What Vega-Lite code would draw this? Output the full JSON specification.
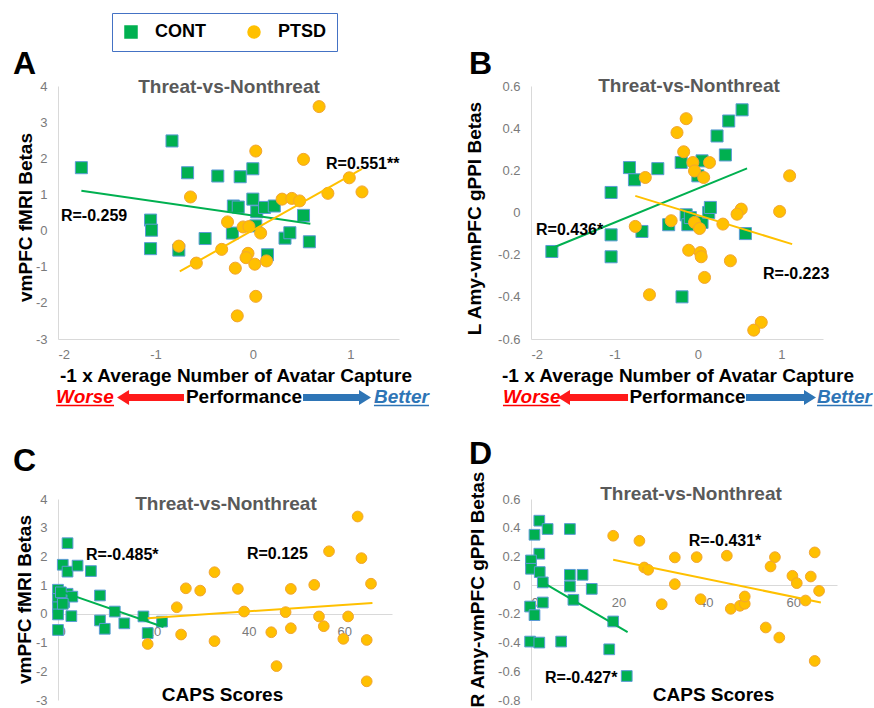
{
  "$schema": "https://vega.github.io/schema/vega-lite/v6.json",
  "background": "white",
  "autosize": {"type": "pad"},
  "padding": {"left": 12, "top": 12, "right": 0, "bottom": 0},
  "config": {
    "view": {"stroke": null},
    "font": "Liberation Sans",
    "axis": {"grid": false, "ticks": false, "labelOverlap": false, "tickCount": 20, "domainColor": "#d9d9d9", "labelColor": "#7a7a7a", "labelFontSize": 13, "labelFont": "Liberation Sans", "titleFont": "Liberation Sans", "titleColor": "#000000", "titleFontSize": 19, "titleFontWeight": "bold"},
    "legend": {"strokeColor": "#4472c4", "padding": 10, "symbolSize": 144, "symbolStrokeColor": "#4472c4", "symbolStrokeWidth": 1.5, "labelFontSize": 18, "labelFontWeight": "bold", "labelColor": "#000000", "labelFont": "Liberation Sans", "labelOffset": 15, "columnPadding": 39},
    "text": {"font": "Liberation Sans"}
  },
  "resolve": {"legend": {"color": "independent", "shape": "independent"}},
  "datasets": {
    "ptA": [
      {"g":"CONT","x":-1.76,"y":1.74},{"g":"CONT","x":-0.83,"y":2.48},{"g":"CONT","x":-0.67,"y":1.60},{"g":"CONT","x":-0.36,"y":1.51},{"g":"CONT","x":-0.13,"y":1.49},{"g":"CONT","x":0.0,"y":1.71},{"g":"CONT","x":-1.05,"y":0.29},{"g":"CONT","x":-1.04,"y":0.01},{"g":"CONT","x":-1.05,"y":-0.50},{"g":"CONT","x":-0.76,"y":-0.54},{"g":"CONT","x":-0.49,"y":-0.22},{"g":"CONT","x":-0.20,"y":0.68},{"g":"CONT","x":-0.15,"y":0.65},{"g":"CONT","x":0.0,"y":0.87},{"g":"CONT","x":0.04,"y":0.52},{"g":"CONT","x":0.12,"y":0.64},{"g":"CONT","x":0.22,"y":0.68},{"g":"CONT","x":-0.21,"y":-0.07},{"g":"CONT","x":0.03,"y":0.13},{"g":"CONT","x":0.33,"y":-0.21},{"g":"CONT","x":0.38,"y":-0.06},{"g":"CONT","x":0.52,"y":0.42},{"g":"CONT","x":0.58,"y":-0.31},{"g":"CONT","x":0.15,"y":-0.67},
      {"g":"PTSD","x":0.68,"y":3.43},{"g":"PTSD","x":0.03,"y":2.20},{"g":"PTSD","x":0.52,"y":1.97},{"g":"PTSD","x":0.99,"y":1.46},{"g":"PTSD","x":0.77,"y":1.03},{"g":"PTSD","x":1.12,"y":1.07},{"g":"PTSD","x":-0.64,"y":0.93},{"g":"PTSD","x":0.30,"y":0.87},{"g":"PTSD","x":0.40,"y":0.89},{"g":"PTSD","x":0.48,"y":0.82},{"g":"PTSD","x":-0.26,"y":0.24},{"g":"PTSD","x":-0.10,"y":0.10},{"g":"PTSD","x":-0.04,"y":0.11},{"g":"PTSD","x":0.08,"y":-0.07},{"g":"PTSD","x":-0.76,"y":-0.43},{"g":"PTSD","x":-0.32,"y":-0.52},{"g":"PTSD","x":-0.58,"y":-0.90},{"g":"PTSD","x":-0.05,"y":-0.63},{"g":"PTSD","x":-0.07,"y":-0.75},{"g":"PTSD","x":0.02,"y":-0.93},{"g":"PTSD","x":0.14,"y":-0.84},{"g":"PTSD","x":-0.18,"y":-1.04},{"g":"PTSD","x":0.03,"y":-1.82},{"g":"PTSD","x":-0.16,"y":-2.36}
    ],
    "lnA": [{"g":"CONT","x":-1.76,"y":1.10,"x2":0.59,"y2":0.19},{"g":"PTSD","x":-0.75,"y":-1.13,"x2":1.12,"y2":1.71}],
    "ptB": [
      {"g":"CONT","x":-1.75,"y":-0.185},{"g":"CONT","x":-1.04,"y":0.095},{"g":"CONT","x":-1.04,"y":-0.106},{"g":"CONT","x":-1.04,"y":-0.21},{"g":"CONT","x":-0.82,"y":0.213},{"g":"CONT","x":-0.76,"y":0.155},{"g":"CONT","x":-0.67,"y":-0.09},{"g":"CONT","x":-0.48,"y":0.208},{"g":"CONT","x":-0.35,"y":-0.058},{"g":"CONT","x":-0.2,"y":0.237},{"g":"CONT","x":-0.14,"y":-0.011},{"g":"CONT","x":-0.12,"y":-0.058},{"g":"CONT","x":0.05,"y":0.245},{"g":"CONT","x":0.0,"y":0.174},{"g":"CONT","x":0.05,"y":-0.047},{"g":"CONT","x":0.13,"y":0.0},{"g":"CONT","x":0.15,"y":0.024},{"g":"CONT","x":0.23,"y":0.363},{"g":"CONT","x":0.37,"y":0.434},{"g":"CONT","x":0.33,"y":0.273},{"g":"CONT","x":0.53,"y":0.487},{"g":"CONT","x":0.57,"y":-0.1},{"g":"CONT","x":-0.19,"y":-0.4},{"g":"CONT","x":-0.09,"y":-0.024},
      {"g":"PTSD","x":-0.14,"y":0.445},{"g":"PTSD","x":-0.25,"y":0.379},{"g":"PTSD","x":-0.17,"y":0.288},{"g":"PTSD","x":-0.06,"y":0.237},{"g":"PTSD","x":0.14,"y":0.237},{"g":"PTSD","x":-0.04,"y":0.197},{"g":"PTSD","x":0.07,"y":0.166},{"g":"PTSD","x":-0.63,"y":0.166},{"g":"PTSD","x":1.10,"y":0.174},{"g":"PTSD","x":0.98,"y":0.005},{"g":"PTSD","x":0.52,"y":0.016},{"g":"PTSD","x":0.47,"y":-0.008},{"g":"PTSD","x":-0.75,"y":-0.066},{"g":"PTSD","x":-0.32,"y":-0.039},{"g":"PTSD","x":-0.04,"y":-0.047},{"g":"PTSD","x":0.02,"y":-0.076},{"g":"PTSD","x":0.30,"y":-0.055},{"g":"PTSD","x":-0.11,"y":-0.179},{"g":"PTSD","x":0.03,"y":-0.19},{"g":"PTSD","x":0.04,"y":-0.21},{"g":"PTSD","x":0.39,"y":-0.229},{"g":"PTSD","x":0.08,"y":-0.308},{"g":"PTSD","x":-0.58,"y":-0.39},{"g":"PTSD","x":0.76,"y":-0.521},{"g":"PTSD","x":0.67,"y":-0.558}
    ],
    "lnB": [{"g":"CONT","x":-1.73,"y":-0.166,"x2":0.59,"y2":0.209},{"g":"PTSD","x":-0.75,"y":0.079,"x2":1.13,"y2":-0.150}],
    "ptC": [
      {"g":"CONT","x":2.0,"y":2.46},{"g":"CONT","x":1.0,"y":1.71},{"g":"CONT","x":2.0,"y":1.47},{"g":"CONT","x":4.1,"y":1.68},{"g":"CONT","x":6.9,"y":1.49},{"g":"CONT","x":0,"y":0.84},{"g":"CONT","x":0,"y":0.52},{"g":"CONT","x":0,"y":0.23},{"g":"CONT","x":0,"y":-0.02},{"g":"CONT","x":0,"y":-0.56},{"g":"CONT","x":1.3,"y":0.41},{"g":"CONT","x":2.0,"y":0.70},{"g":"CONT","x":3.0,"y":0.60},{"g":"CONT","x":2.8,"y":-0.08},{"g":"CONT","x":8.8,"y":0.64},{"g":"CONT","x":8.8,"y":-0.23},{"g":"CONT","x":9.8,"y":-0.52},{"g":"CONT","x":11.9,"y":0.08},{"g":"CONT","x":13.9,"y":-0.33},{"g":"CONT","x":17.9,"y":-0.09},{"g":"CONT","x":18.8,"y":-0.67},{"g":"CONT","x":21.8,"y":-0.27},{"g":"CONT","x":0.6,"y":0.75},{"g":"CONT","x":1.0,"y":0.35},
      {"g":"PTSD","x":62.8,"y":3.39},{"g":"PTSD","x":56.8,"y":2.18},{"g":"PTSD","x":63.6,"y":1.94},{"g":"PTSD","x":32.8,"y":1.45},{"g":"PTSD","x":26.8,"y":0.89},{"g":"PTSD","x":29.8,"y":0.81},{"g":"PTSD","x":37.7,"y":0.87},{"g":"PTSD","x":48.8,"y":0.87},{"g":"PTSD","x":53.7,"y":1.01},{"g":"PTSD","x":65.6,"y":1.05},{"g":"PTSD","x":24.9,"y":0.23},{"g":"PTSD","x":39.0,"y":0.08},{"g":"PTSD","x":47.7,"y":0.06},{"g":"PTSD","x":54.7,"y":-0.09},{"g":"PTSD","x":60.8,"y":-0.09},{"g":"PTSD","x":25.8,"y":-0.72},{"g":"PTSD","x":32.8,"y":-0.95},{"g":"PTSD","x":44.7,"y":-0.64},{"g":"PTSD","x":48.8,"y":-0.50},{"g":"PTSD","x":55.7,"y":-0.43},{"g":"PTSD","x":59.8,"y":-0.87},{"g":"PTSD","x":64.7,"y":-0.91},{"g":"PTSD","x":18.8,"y":-1.05},{"g":"PTSD","x":45.8,"y":-1.82},{"g":"PTSD","x":64.7,"y":-2.35}
    ],
    "lnC": [{"g":"CONT","x":0.4,"y":0.79,"x2":22.1,"y2":-0.46},{"g":"PTSD","x":18.8,"y":-0.15,"x2":65.9,"y2":0.38}],
    "ptD": [
      {"g":"CONT","x":1.9,"y":0.449},{"g":"CONT","x":0.8,"y":0.351},{"g":"CONT","x":3.8,"y":0.391},{"g":"CONT","x":8.9,"y":0.391},{"g":"CONT","x":1.9,"y":0.219},{"g":"CONT","x":0,"y":0.172},{"g":"CONT","x":0,"y":0.114},{"g":"CONT","x":2.0,"y":0.091},{"g":"CONT","x":2.7,"y":0.019},{"g":"CONT","x":8.9,"y":0.072},{"g":"CONT","x":8.9,"y":-0.009},{"g":"CONT","x":11.8,"y":0.072},{"g":"CONT","x":13.9,"y":-0.026},{"g":"CONT","x":9.7,"y":-0.102},{"g":"CONT","x":2.7,"y":-0.121},{"g":"CONT","x":-0.2,"y":-0.149},{"g":"CONT","x":0.8,"y":-0.209},{"g":"CONT","x":-0.2,"y":-0.393},{"g":"CONT","x":1.9,"y":-0.4},{"g":"CONT","x":6.9,"y":-0.393},{"g":"CONT","x":18.8,"y":-0.253},{"g":"CONT","x":17.9,"y":-0.447},{"g":"CONT","x":21.9,"y":-0.633},
      {"g":"PTSD","x":18.8,"y":0.344},{"g":"PTSD","x":24.8,"y":0.309},{"g":"PTSD","x":25.9,"y":0.123},{"g":"PTSD","x":26.8,"y":0.107},{"g":"PTSD","x":32.9,"y":0.193},{"g":"PTSD","x":37.9,"y":0.195},{"g":"PTSD","x":44.8,"y":0.205},{"g":"PTSD","x":55.8,"y":0.195},{"g":"PTSD","x":54.8,"y":0.130},{"g":"PTSD","x":64.9,"y":0.228},{"g":"PTSD","x":59.8,"y":0.065},{"g":"PTSD","x":60.8,"y":0.014},{"g":"PTSD","x":64.0,"y":0.060},{"g":"PTSD","x":65.9,"y":-0.040},{"g":"PTSD","x":32.9,"y":0.007},{"g":"PTSD","x":29.9,"y":-0.133},{"g":"PTSD","x":38.8,"y":-0.098},{"g":"PTSD","x":45.7,"y":-0.165},{"g":"PTSD","x":47.8,"y":-0.144},{"g":"PTSD","x":48.9,"y":-0.130},{"g":"PTSD","x":48.9,"y":-0.079},{"g":"PTSD","x":62.8,"y":-0.107},{"g":"PTSD","x":53.7,"y":-0.295},{"g":"PTSD","x":56.8,"y":-0.365},{"g":"PTSD","x":64.9,"y":-0.528}
    ],
    "lnD": [{"g":"CONT","x":2.3,"y":0.026,"x2":22.1,"y2":-0.328},{"g":"PTSD","x":18.8,"y":0.177,"x2":66.3,"y2":-0.121}]
  },
  "columns": 2,
  "bounds": "flush",
  "align": "all",
  "spacing": {"row": 160, "column": 132},
  "concat": [
    {
      "width": 341, "height": 253,
      "layer": [
        {"data": {"name": "ptA"}, "mark": {"type": "point", "filled": true, "opacity": 1, "size": 145, "strokeWidth": 1},
         "encoding": {
           "x": {"field": "x", "type": "quantitative", "scale": {"domain": [-2, 1.5], "nice": false, "zero": false}, "axis": {"values": [-2, -1, 0, 1], "tickCount": 20, "labelOverlap": false, "labelExpr": "'' + datum.value", "labelPadding": 9, "title": "-1 x Average Number of Avatar Capture", "titleX": 177.5, "titleY": 42, "titleBaseline": "alphabetic"}},
           "y": {"field": "y", "type": "quantitative", "scale": {"domain": [-3, 4], "nice": false, "zero": false}, "axis": {"values": [-3, -2, -1, 0, 1, 2, 3, 4], "tickCount": 20, "labelOverlap": false, "labelExpr": "'' + datum.value", "labelPadding": 11, "title": "vmPFC fMRI Betas", "titleX": -27, "titleY": 131, "titleBaseline": "alphabetic"}},
           "color": {"field": "g", "type": "nominal", "title": null, "scale": {"domain": ["CONT", "PTSD"], "range": ["#00b050", "#ffc000"]}, "legend": {"orient": "none", "legendX": 54, "legendY": -73, "direction": "horizontal", "title": null, "labelExpr": "datum.label == 'PTSD' ? 'PTSD\u00a0\u00a0\u00a0\u00a0\u00a0\u00a0' : datum.label"}},
           "shape": {"field": "g", "type": "nominal", "title": null, "scale": {"domain": ["CONT", "PTSD"], "range": ["square", "circle"]}, "legend": {"orient": "none", "legendX": 54, "legendY": -73, "direction": "horizontal", "title": null, "labelExpr": "datum.label == 'PTSD' ? 'PTSD\u00a0\u00a0\u00a0\u00a0\u00a0\u00a0' : datum.label"}},
           "stroke": {"field": "g", "type": "nominal", "legend": null, "scale": {"domain": ["CONT", "PTSD"], "range": ["#5b9bd5", "#f2a531"]}}
         }},
        {"data": {"name": "lnA"}, "mark": {"type": "rule", "strokeWidth": 2},
         "encoding": {"x": {"field": "x", "type": "quantitative"}, "y": {"field": "y", "type": "quantitative"}, "x2": {"field": "x2"}, "y2": {"field": "y2"}, "color": {"field": "g", "type": "nominal", "legend": null}}},
        {"data": {"values": [{}]}, "mark": {"type": "text", "text": "A", "fontSize": 32, "fontWeight": "bold", "align": "left", "baseline": "alphabetic", "color": "#000000"}, "encoding": {"x": {"datum": -2.462, "type": "quantitative"}, "y": {"datum": 4.33, "type": "quantitative"}}},
        {"data": {"values": [{}]}, "mark": {"type": "text", "text": "Threat-vs-Nonthreat", "fontSize": 19, "fontWeight": "bold", "align": "center", "baseline": "middle", "color": "#595959"}, "encoding": {"x": {"datum": -0.245, "type": "quantitative"}, "y": {"datum": 3.98, "type": "quantitative"}}},
        {"data": {"values": [{}]}, "mark": {"type": "text", "text": "R=-0.259", "fontSize": 16, "fontWeight": "bold", "align": "left", "baseline": "middle", "color": "#000000"}, "encoding": {"x": {"datum": -1.97, "type": "quantitative"}, "y": {"datum": 0.40, "type": "quantitative"}}},
        {"data": {"values": [{}]}, "mark": {"type": "text", "text": "R=0.551**", "fontSize": 16, "fontWeight": "bold", "align": "left", "baseline": "middle", "color": "#000000"}, "encoding": {"x": {"datum": 0.751, "type": "quantitative"}, "y": {"datum": 1.84, "type": "quantitative"}}},
        {"data": {"values": [{}]}, "mark": {"type": "text", "text": "Worse", "fontSize": 19, "fontWeight": "bold", "fontStyle": "italic", "align": "left", "baseline": "alphabetic", "color": "#ff0000"}, "encoding": {"x": {"datum": -2.02, "type": "quantitative"}, "y": {"datum": -4.77, "type": "quantitative"}}},
        {"data": {"values": [{}]}, "mark": {"type": "rule", "strokeWidth": 1.5, "color": "#ff0000"}, "encoding": {"x": {"datum": -2.02, "type": "quantitative"}, "x2": {"datum": -1.425}, "y": {"datum": -4.84, "type": "quantitative"}}},
        {"data": {"values": [{}]}, "mark": {"type": "rule", "strokeWidth": 7, "color": "#ff1a1a"}, "encoding": {"x": {"datum": -1.30, "type": "quantitative"}, "x2": {"datum": -0.707}, "y": {"datum": -4.619, "type": "quantitative"}}},
        {"data": {"values": [{}]}, "mark": {"type": "point", "shape": "M-1,0L0.6,-1L0.6,1Z", "filled": true, "opacity": 1, "size": 225, "color": "#ff1a1a"}, "encoding": {"x": {"datum": -1.317, "type": "quantitative"}, "y": {"datum": -4.619, "type": "quantitative"}}},
        {"data": {"values": [{}]}, "mark": {"type": "text", "text": "Performance", "fontSize": 19, "fontWeight": "bold", "align": "center", "baseline": "alphabetic", "color": "#000000"}, "encoding": {"x": {"datum": -0.091, "type": "quantitative"}, "y": {"datum": -4.77, "type": "quantitative"}}},
        {"data": {"values": [{}]}, "mark": {"type": "rule", "strokeWidth": 7, "color": "#2e75b6"}, "encoding": {"x": {"datum": 0.515, "type": "quantitative"}, "x2": {"datum": 1.11}, "y": {"datum": -4.619, "type": "quantitative"}}},
        {"data": {"values": [{}]}, "mark": {"type": "point", "shape": "M1,0L-0.6,-1L-0.6,1Z", "filled": true, "opacity": 1, "size": 225, "color": "#2e75b6"}, "encoding": {"x": {"datum": 1.1356, "type": "quantitative"}, "y": {"datum": -4.619, "type": "quantitative"}}},
        {"data": {"values": [{}]}, "mark": {"type": "text", "text": "Better", "fontSize": 19, "fontWeight": "bold", "fontStyle": "italic", "align": "left", "baseline": "alphabetic", "color": "#2e75b6"}, "encoding": {"x": {"datum": 1.243, "type": "quantitative"}, "y": {"datum": -4.77, "type": "quantitative"}}},
        {"data": {"values": [{}]}, "mark": {"type": "rule", "strokeWidth": 1.5, "color": "#2e75b6"}, "encoding": {"x": {"datum": 1.243, "type": "quantitative"}, "x2": {"datum": 1.808}, "y": {"datum": -4.84, "type": "quantitative"}}}
      ]
    },
    {
      "width": 292, "height": 253,
      "layer": [
        {"data": {"name": "ptB"}, "mark": {"type": "point", "filled": true, "opacity": 1, "size": 145, "strokeWidth": 1},
         "encoding": {
           "x": {"field": "x", "type": "quantitative", "scale": {"domain": [-2, 1.5], "nice": false, "zero": false}, "axis": {"values": [-2, -1, 0, 1], "tickCount": 20, "labelOverlap": false, "labelExpr": "'' + datum.value", "labelPadding": 9, "title": "-1 x Average Number of Avatar Capture", "titleX": 146.5, "titleY": 42, "titleBaseline": "alphabetic"}},
           "y": {"field": "y", "type": "quantitative", "scale": {"domain": [-0.6, 0.6], "nice": false, "zero": false}, "axis": {"values": [-0.6, -0.4, -0.2, 0, 0.2, 0.4, 0.6], "tickCount": 20, "labelOverlap": false, "labelExpr": "'' + datum.value", "labelPadding": 11, "title": "L Amy-vmPFC gPPI Betas", "titleX": -51, "titleY": 132, "titleBaseline": "alphabetic"}},
           "color": {"field": "g", "type": "nominal", "legend": null},
           "shape": {"field": "g", "type": "nominal", "legend": null},
           "stroke": {"field": "g", "type": "nominal", "legend": null}
         }},
        {"data": {"name": "lnB"}, "mark": {"type": "rule", "strokeWidth": 2},
         "encoding": {"x": {"field": "x", "type": "quantitative"}, "y": {"field": "y", "type": "quantitative"}, "x2": {"field": "x2"}, "y2": {"field": "y2"}, "color": {"field": "g", "type": "nominal", "legend": null}}},
        {"data": {"values": [{}]}, "mark": {"type": "text", "text": "B", "fontSize": 32, "fontWeight": "bold", "align": "left", "baseline": "alphabetic", "color": "#000000"}, "encoding": {"x": {"datum": -2.743, "type": "quantitative"}, "y": {"datum": 0.657, "type": "quantitative"}}},
        {"data": {"values": [{}]}, "mark": {"type": "text", "text": "Threat-vs-Nonthreat", "fontSize": 19, "fontWeight": "bold", "align": "center", "baseline": "middle", "color": "#595959"}, "encoding": {"x": {"datum": -0.106, "type": "quantitative"}, "y": {"datum": 0.598, "type": "quantitative"}}},
        {"data": {"values": [{}]}, "mark": {"type": "text", "text": "R=0.436*", "fontSize": 16, "fontWeight": "bold", "align": "left", "baseline": "middle", "color": "#000000"}, "encoding": {"x": {"datum": -1.94, "type": "quantitative"}, "y": {"datum": -0.083, "type": "quantitative"}}},
        {"data": {"values": [{}]}, "mark": {"type": "text", "text": "R=-0.223", "fontSize": 16, "fontWeight": "bold", "align": "left", "baseline": "middle", "color": "#000000"}, "encoding": {"x": {"datum": 0.781, "type": "quantitative"}, "y": {"datum": -0.292, "type": "quantitative"}}},
        {"data": {"values": [{}]}, "mark": {"type": "text", "text": "Worse", "fontSize": 19, "fontWeight": "bold", "fontStyle": "italic", "align": "left", "baseline": "alphabetic", "color": "#ff0000"}, "encoding": {"x": {"datum": -2.336, "type": "quantitative"}, "y": {"datum": -0.9036, "type": "quantitative"}}},
        {"data": {"values": [{}]}, "mark": {"type": "rule", "strokeWidth": 1.5, "color": "#ff0000"}, "encoding": {"x": {"datum": -2.336, "type": "quantitative"}, "x2": {"datum": -1.65}, "y": {"datum": -0.9155, "type": "quantitative"}}},
        {"data": {"values": [{}]}, "mark": {"type": "rule", "strokeWidth": 7, "color": "#ff1a1a"}, "encoding": {"x": {"datum": -1.56, "type": "quantitative"}, "x2": {"datum": -0.837}, "y": {"datum": -0.8775, "type": "quantitative"}}},
        {"data": {"values": [{}]}, "mark": {"type": "point", "shape": "M-1,0L0.6,-1L0.6,1Z", "filled": true, "opacity": 1, "size": 225, "color": "#ff1a1a"}, "encoding": {"x": {"datum": -1.5865, "type": "quantitative"}, "y": {"datum": -0.8775, "type": "quantitative"}}},
        {"data": {"values": [{}]}, "mark": {"type": "text", "text": "Performance", "fontSize": 19, "fontWeight": "bold", "align": "center", "baseline": "alphabetic", "color": "#000000"}, "encoding": {"x": {"datum": -0.124, "type": "quantitative"}, "y": {"datum": -0.9036, "type": "quantitative"}}},
        {"data": {"values": [{}]}, "mark": {"type": "rule", "strokeWidth": 7, "color": "#2e75b6"}, "encoding": {"x": {"datum": 0.577, "type": "quantitative"}, "x2": {"datum": 1.30}, "y": {"datum": -0.8775, "type": "quantitative"}}},
        {"data": {"values": [{}]}, "mark": {"type": "point", "shape": "M1,0L-0.6,-1L-0.6,1Z", "filled": true, "opacity": 1, "size": 225, "color": "#2e75b6"}, "encoding": {"x": {"datum": 1.326, "type": "quantitative"}, "y": {"datum": -0.8775, "type": "quantitative"}}},
        {"data": {"values": [{}]}, "mark": {"type": "text", "text": "Better", "fontSize": 19, "fontWeight": "bold", "fontStyle": "italic", "align": "left", "baseline": "alphabetic", "color": "#2e75b6"}, "encoding": {"x": {"datum": 1.428, "type": "quantitative"}, "y": {"datum": -0.9036, "type": "quantitative"}}},
        {"data": {"values": [{}]}, "mark": {"type": "rule", "strokeWidth": 1.5, "color": "#2e75b6"}, "encoding": {"x": {"datum": 1.428, "type": "quantitative"}, "x2": {"datum": 2.09}, "y": {"datum": -0.9155, "type": "quantitative"}}}
      ]
    },
    {
      "width": 334, "height": 201,
      "layer": [
        {"data": {"name": "ptC"}, "mark": {"type": "point", "filled": true, "opacity": 1, "size": 115, "strokeWidth": 1},
         "encoding": {
           "x": {"field": "x", "type": "quantitative", "scale": {"domain": [0, 70], "nice": false, "zero": false}, "axis": {"values": [0, 20, 40, 60], "tickCount": 20, "labelOverlap": false, "offset": -86, "labelPadding": 11, "title": "CAPS Scores", "titleX": 164, "titleY": 86, "titleBaseline": "alphabetic"}},
           "y": {"field": "y", "type": "quantitative", "scale": {"domain": [-3, 4], "nice": false, "zero": false}, "axis": {"values": [-3, -2, -1, 0, 1, 2, 3, 4], "tickCount": 20, "labelOverlap": false, "labelExpr": "'' + datum.value", "labelPadding": 11, "title": "vmPFC fMRI Betas", "titleX": -28, "titleY": 100, "titleBaseline": "alphabetic"}},
           "color": {"field": "g", "type": "nominal", "legend": null},
           "shape": {"field": "g", "type": "nominal", "legend": null},
           "stroke": {"field": "g", "type": "nominal", "legend": null}
         }},
        {"data": {"name": "lnC"}, "mark": {"type": "rule", "strokeWidth": 2},
         "encoding": {"x": {"field": "x", "type": "quantitative"}, "y": {"field": "y", "type": "quantitative"}, "x2": {"field": "x2"}, "y2": {"field": "y2"}, "color": {"field": "g", "type": "nominal", "legend": null}}},
        {"data": {"values": [{}]}, "mark": {"type": "text", "text": "C", "fontSize": 32, "fontWeight": "bold", "align": "left", "baseline": "alphabetic", "color": "#000000"}, "encoding": {"x": {"datum": -9.43, "type": "quantitative"}, "y": {"datum": 4.975, "type": "quantitative"}}},
        {"data": {"values": [{}]}, "mark": {"type": "text", "text": "Threat-vs-Nonthreat", "fontSize": 19, "fontWeight": "bold", "align": "center", "baseline": "middle", "color": "#595959"}, "encoding": {"x": {"datum": 35.2, "type": "quantitative"}, "y": {"datum": 3.84, "type": "quantitative"}}},
        {"data": {"values": [{}]}, "mark": {"type": "text", "text": "R=-0.485*", "fontSize": 16, "fontWeight": "bold", "align": "left", "baseline": "middle", "color": "#000000"}, "encoding": {"x": {"datum": 5.87, "type": "quantitative"}, "y": {"datum": 2.05, "type": "quantitative"}}},
        {"data": {"values": [{}]}, "mark": {"type": "text", "text": "R=0.125", "fontSize": 16, "fontWeight": "bold", "align": "left", "baseline": "middle", "color": "#000000"}, "encoding": {"x": {"datum": 39.6, "type": "quantitative"}, "y": {"datum": 2.08, "type": "quantitative"}}}
      ]
    },
    {
      "width": 306, "height": 201,
      "layer": [
        {"data": {"name": "ptD"}, "mark": {"type": "point", "filled": true, "opacity": 1, "size": 115, "strokeWidth": 1},
         "encoding": {
           "x": {"field": "x", "type": "quantitative", "scale": {"domain": [0, 70], "nice": false, "zero": false}, "axis": {"values": [0, 20, 40, 60], "tickCount": 20, "labelOverlap": false, "offset": -115, "labelPadding": 11, "title": "CAPS Scores", "titleX": 182, "titleY": 115, "titleBaseline": "alphabetic"}},
           "y": {"field": "y", "type": "quantitative", "scale": {"domain": [-0.8, 0.6], "nice": false, "zero": false}, "axis": {"values": [-0.8, -0.6, -0.4, -0.2, 0, 0.2, 0.4, 0.6], "tickCount": 20, "labelOverlap": false, "labelExpr": "'' + datum.value", "labelPadding": 11, "title": "R Amy-vmPFC gPPI Betas", "titleX": -48, "titleY": 90, "titleBaseline": "alphabetic"}},
           "color": {"field": "g", "type": "nominal", "legend": null},
           "shape": {"field": "g", "type": "nominal", "legend": null},
           "stroke": {"field": "g", "type": "nominal", "legend": null}
         }},
        {"data": {"name": "lnD"}, "mark": {"type": "rule", "strokeWidth": 2},
         "encoding": {"x": {"field": "x", "type": "quantitative"}, "y": {"field": "y", "type": "quantitative"}, "x2": {"field": "x2"}, "y2": {"field": "y2"}, "color": {"field": "g", "type": "nominal", "legend": null}}},
        {"data": {"values": [{}]}, "mark": {"type": "text", "text": "D", "fontSize": 32, "fontWeight": "bold", "align": "left", "baseline": "alphabetic", "color": "#000000"}, "encoding": {"x": {"datum": -14.18, "type": "quantitative"}, "y": {"datum": 0.844, "type": "quantitative"}}},
        {"data": {"values": [{}]}, "mark": {"type": "text", "text": "Threat-vs-Nonthreat", "fontSize": 19, "fontWeight": "bold", "align": "center", "baseline": "middle", "color": "#595959"}, "encoding": {"x": {"datum": 36.6, "type": "quantitative"}, "y": {"datum": 0.638, "type": "quantitative"}}},
        {"data": {"values": [{}]}, "mark": {"type": "text", "text": "R=-0.431*", "fontSize": 16, "fontWeight": "bold", "align": "left", "baseline": "middle", "color": "#000000"}, "encoding": {"x": {"datum": 36.1, "type": "quantitative"}, "y": {"datum": 0.307, "type": "quantitative"}}},
        {"data": {"values": [{}]}, "mark": {"type": "text", "text": "R=-0.427*", "fontSize": 16, "fontWeight": "bold", "align": "left", "baseline": "middle", "color": "#000000"}, "encoding": {"x": {"datum": 3.2, "type": "quantitative"}, "y": {"datum": -0.647, "type": "quantitative"}}}
      ]
    }
  ]
}
